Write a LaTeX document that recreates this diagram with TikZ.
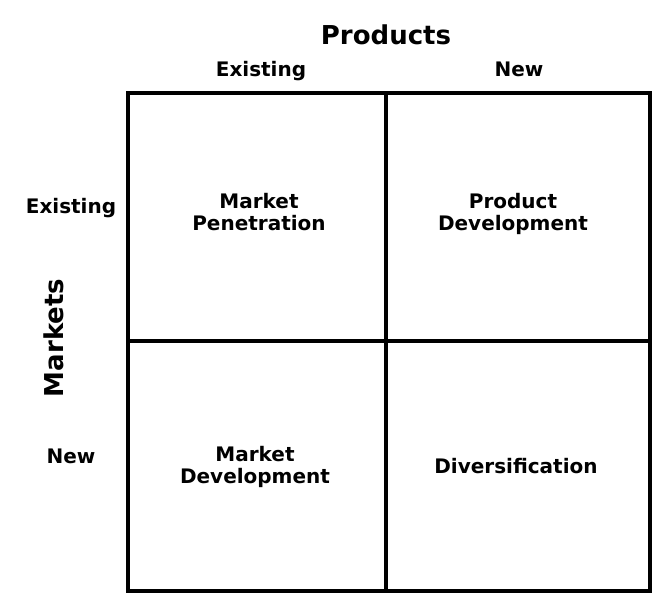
\documentclass[tikz,border=0pt]{standalone}
\usepackage{fontspec}
\setmainfont{DejaVu Sans}
\begin{document}
\begin{tikzpicture}[x=1pt, y=-1pt, line width=4pt,
    axislabel/.style={font=\bfseries\fontsize{26}{28}\selectfont},
    sublabel/.style={font=\bfseries\fontsize{20}{22}\selectfont, anchor=base},
    celltext/.style={font=\bfseries\fontsize{20}{22}\selectfont, align=center, anchor=base}]
  \useasboundingbox (0,0) rectangle (669,610);

  % Draw the grid
  \draw (128,93) rectangle (650,591);
  \draw (386,93) -- (386,591); % Products divider
  \draw (128,341) -- (650,341); % Markets divider

  % Axis titles
  \node[axislabel, anchor=base] (products) at (386,45) {Products};
  \node[axislabel, rotate=90] (markets) at (54,338) {Markets};

  % Column and row labels
  \node[sublabel] (prodold) at (261,77) {Existing};
  \node[sublabel] (prodnew) at (519,77) {New};
  \node[sublabel] (mktold) at (71,213) {Existing};
  \node[sublabel] (mktnew) at (71,463) {New};

  % Strategies in the cells (base is the last line)
  \node[celltext] (penetration) at (259,230) {Market\\Penetration};
  \node[celltext] (proddev) at (513,230) {Product\\Development};
  \node[celltext] (mktdev) at (255,483) {Market\\Development};
  \node[celltext] (diversify) at (516,473) {Diversification};

\end{tikzpicture}
\end{document}
